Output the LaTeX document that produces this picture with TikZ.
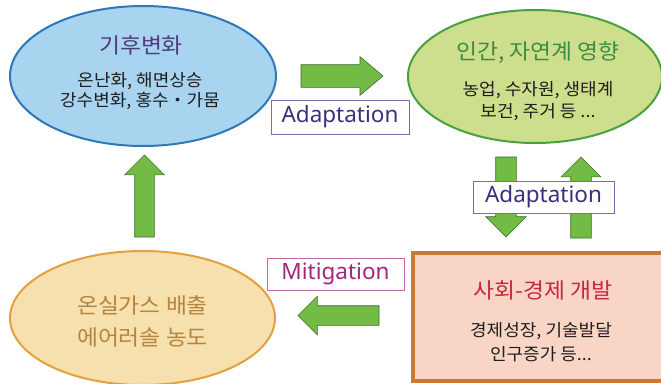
\documentclass[tikz,border=0pt]{standalone}
\usepackage{fontspec}
\setmainfont{Noto Sans}
\newfontfamily\kr[FakeStretch=1.06]{Noto Sans CJK KR}
\newfontfamily\lat{Noto Sans}
\usetikzlibrary{shapes.geometric,shapes.arrows}

\definecolor{blueFill}{HTML}{A8D4EF}
\definecolor{blueLine}{HTML}{2E78B7}
\definecolor{greenFill}{HTML}{CDDF8C}
\definecolor{greenLine}{HTML}{48A040}
\definecolor{sandFill}{HTML}{F6E0AE}
\definecolor{sandLine}{HTML}{E4A03E}
\definecolor{roseFill}{HTML}{F9D5C5}
\definecolor{roseLine}{HTML}{D0772F}
\definecolor{arrowFill}{HTML}{72BB44}
\definecolor{arrowLine}{HTML}{3E6A2C}
\definecolor{titlePurple}{HTML}{4E3C7C}
\definecolor{titleGreen}{HTML}{3E8C44}
\definecolor{titleSand}{HTML}{B5843F}
\definecolor{titleRed}{HTML}{C8283C}
\definecolor{adaptText}{HTML}{3B2F7E}
\definecolor{adaptLine}{HTML}{7A6AAE}
\definecolor{mitiText}{HTML}{A3257F}
\definecolor{mitiLine}{HTML}{C56AA8}
\definecolor{bodyText}{HTML}{1E1E1E}

\tikzset{
  bubble/.style={ellipse, draw, line width=2pt, inner sep=0pt, outer sep=0pt},
  titletext/.style={font=\kr\fontsize{21.5}{24}\selectfont, inner sep=0pt},
  bodytext/.style={font=\kr\fontsize{17}{19}\selectfont, text=bodyText, align=center, inner sep=0pt},
  tag/.style={draw, line width=0.9pt, fill=white, inner sep=0pt,
    font=\lat\fontsize{22.5}{24}\selectfont},
  blockarrow/.style={single arrow, draw=arrowLine, fill=arrowFill, line width=0.6pt,
    text height=0pt, text depth=0pt, inner xsep=0pt, outer sep=0pt,
    single arrow head indent=0pt, anchor=tail},
}

\begin{document}
\begin{tikzpicture}[x=1pt,y=-1pt]
\useasboundingbox (0,0) rectangle (661,383);

% the four stages of the cycle
\node[bubble, draw=blueLine, fill=blueFill, minimum width=266pt, minimum height=140pt] (climate) at (143,76) {};
\node[bubble, draw=greenLine, fill=greenFill, minimum width=254pt, minimum height=133pt] (impact) at (535,76.5) {};
\node[bubble, draw=sandLine, fill=sandFill, minimum width=265pt, minimum height=134pt] (emission) at (142.5,318) {};
\begin{scope}
  \clip (0,0) rectangle (661,383);
  \draw[roseLine, fill=roseFill, line width=4pt] (413,253) rectangle (672,381);
\end{scope}
\coordinate (develop) at (543,317);

% texts of each stage
\node[titletext, text=titlePurple] (climateT) at (141,45) {기후변화};
\node[bodytext] (climateB) at (140,91) {온난화, 해면상승\\[1pt]강수변화, 홍수・가뭄};
\node[titletext, text=titleGreen] (impactT) at (538,53) {인간, 자연계 영향};
\node[bodytext] (impactB) at (538,101) {농업, 수자원, 생태계\\[3.5pt]보건, 주거 등 ...};
\node[titletext, text=titleSand, align=center, font=\kr\fontsize{21.5}{32}\selectfont] (emissionT) at (142.5,321) {온실가스 배출\\에어러솔 농도};
\node[titletext, text=titleRed] (developT) at (543,290) {사회-경제 개발};
\node[bodytext] (developB) at (541,342.5) {경제성장, 기술발달\\[5pt]인구증가 등...};

% block arrows between stages
\node[blockarrow, minimum height=82pt, inner ysep=11pt, single arrow head extend=8pt,
  single arrow tip angle=80] (a1) at (301,76) {};
\node[blockarrow, rotate=-90, minimum height=80pt, inner ysep=10pt, single arrow head extend=10pt] (a2) at (506,157) {};
\node[blockarrow, rotate=90, minimum height=81pt, inner ysep=10pt, single arrow head extend=9.5pt] (a3) at (581,238) {};
\node[blockarrow, rotate=180, minimum height=81pt, inner ysep=9.5pt, single arrow head extend=9.5pt] (a4) at (379,315.5) {};
\node[blockarrow, rotate=90, minimum height=82pt, inner ysep=9.5pt, single arrow head extend=10pt] (a5) at (144.5,237) {};

% response labels
\node[tag, draw=adaptLine, text=adaptText, minimum width=138pt, minimum height=34pt] (adapt1) at (340,117) {Adaptation};
\node[tag, draw=adaptLine, text=adaptText, minimum width=141pt, minimum height=32pt] (adapt2) at (543.5,197) {Adaptation};
\node[tag, draw=mitiLine, text=mitiText, minimum width=137pt, minimum height=32pt] (miti) at (335.5,274) {Mitigation};
\end{tikzpicture}
\end{document}
